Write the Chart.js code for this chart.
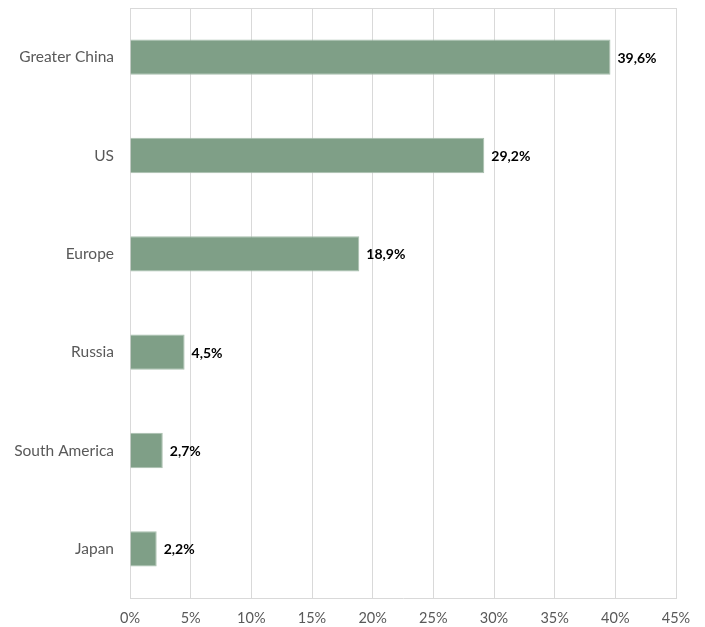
<!DOCTYPE html>
<html>
<head>
<meta charset="utf-8">
<script src="https://cdn.jsdelivr.net/npm/chart.js@4"></script>
<style>
  html, body { margin: 0; padding: 0; background: #fff; }
  #wrap { width: 705px; height: 627px; }
</style>
</head>
<body>
<div id="wrap"><canvas id="grafico" width="705" height="627"></canvas></div>
<script>
var regions = ['Greater China', 'US', 'Europe', 'Russia', 'South America', 'Japan'];
var shares = [39.6, 29.2, 18.9, 4.5, 2.7, 2.2];
var xTicks = [0, 5, 10, 15, 20, 25, 30, 35, 40, 45];

var fontName = "Lato, 'Open Sans', sans-serif";

// labels de valor al final de cada barra + borde superior del area
var etiquetas = {
    id: 'etiquetas',
    afterDatasetsDraw: function (chart) {
        var ctx = chart.ctx;
        var area = chart.chartArea;
        ctx.save();
        ctx.strokeStyle = '#d9d9d9';
        ctx.lineWidth = 1;
        ctx.beginPath();
        ctx.moveTo(area.left, area.top + 0.5);
        ctx.lineTo(area.right, area.top + 0.5);
        ctx.stroke();

        var meta = chart.getDatasetMeta(0);
        ctx.fillStyle = '#000';
        ctx.font = 'bold 14px ' + fontName;
        ctx.textBaseline = 'middle';
        ctx.textAlign = 'left';
        meta.data.forEach(function (bar, i) {
            var txt = shares[i].toFixed(1).replace('.', ',') + '%';
            ctx.fillText(txt, bar.x + 7, bar.y + 1);
        });
        ctx.restore();
    }
};

var ctx = document.getElementById('grafico').getContext('2d');
var chart = new Chart(ctx, {
    type: 'bar',
    data: {
        labels: regions,
        datasets: [{
            data: shares,
            backgroundColor: '#7f9f87',
            borderColor: '#a9bfae',
            borderWidth: 1,
            categoryPercentage: 1,
            barPercentage: 0.36
        }]
    },
    options: {
        indexAxis: 'y',
        responsive: false,
        animation: false,
        layout: { padding: { left: 0, right: 29, top: 8, bottom: 0 } },
        plugins: {
            legend: { display: false },
            tooltip: { enabled: false }
        },
        scales: {
            x: {
                min: 0,
                max: 45,
                afterBuildTicks: function (axis) {
                    axis.ticks = xTicks.map(function (v) { return { value: v }; });
                },
                afterFit: function (axis) {
                    axis.height = 29;
                    axis.paddingLeft = 0;
                    axis.paddingRight = 0;
                },
                ticks: {
                    color: '#595959',
                    font: { family: fontName, size: 14.5 },
                    padding: 12,
                    callback: function (v) { return v + '%'; }
                },
                grid: { color: '#d9d9d9', drawTicks: false },
                border: { color: '#d9d9d9' }
            },
            y: {
                afterFit: function (axis) {
                    axis.width = 130;
                    axis.paddingTop = 0;
                    axis.paddingBottom = 0;
                },
                ticks: {
                    color: '#595959',
                    font: { family: fontName, size: 15.5 },
                    padding: 16
                },
                grid: { display: false, drawTicks: false },
                border: { color: '#d9d9d9' }
            }
        }
    },
    plugins: [etiquetas]
});
</script>
</body>
</html>
